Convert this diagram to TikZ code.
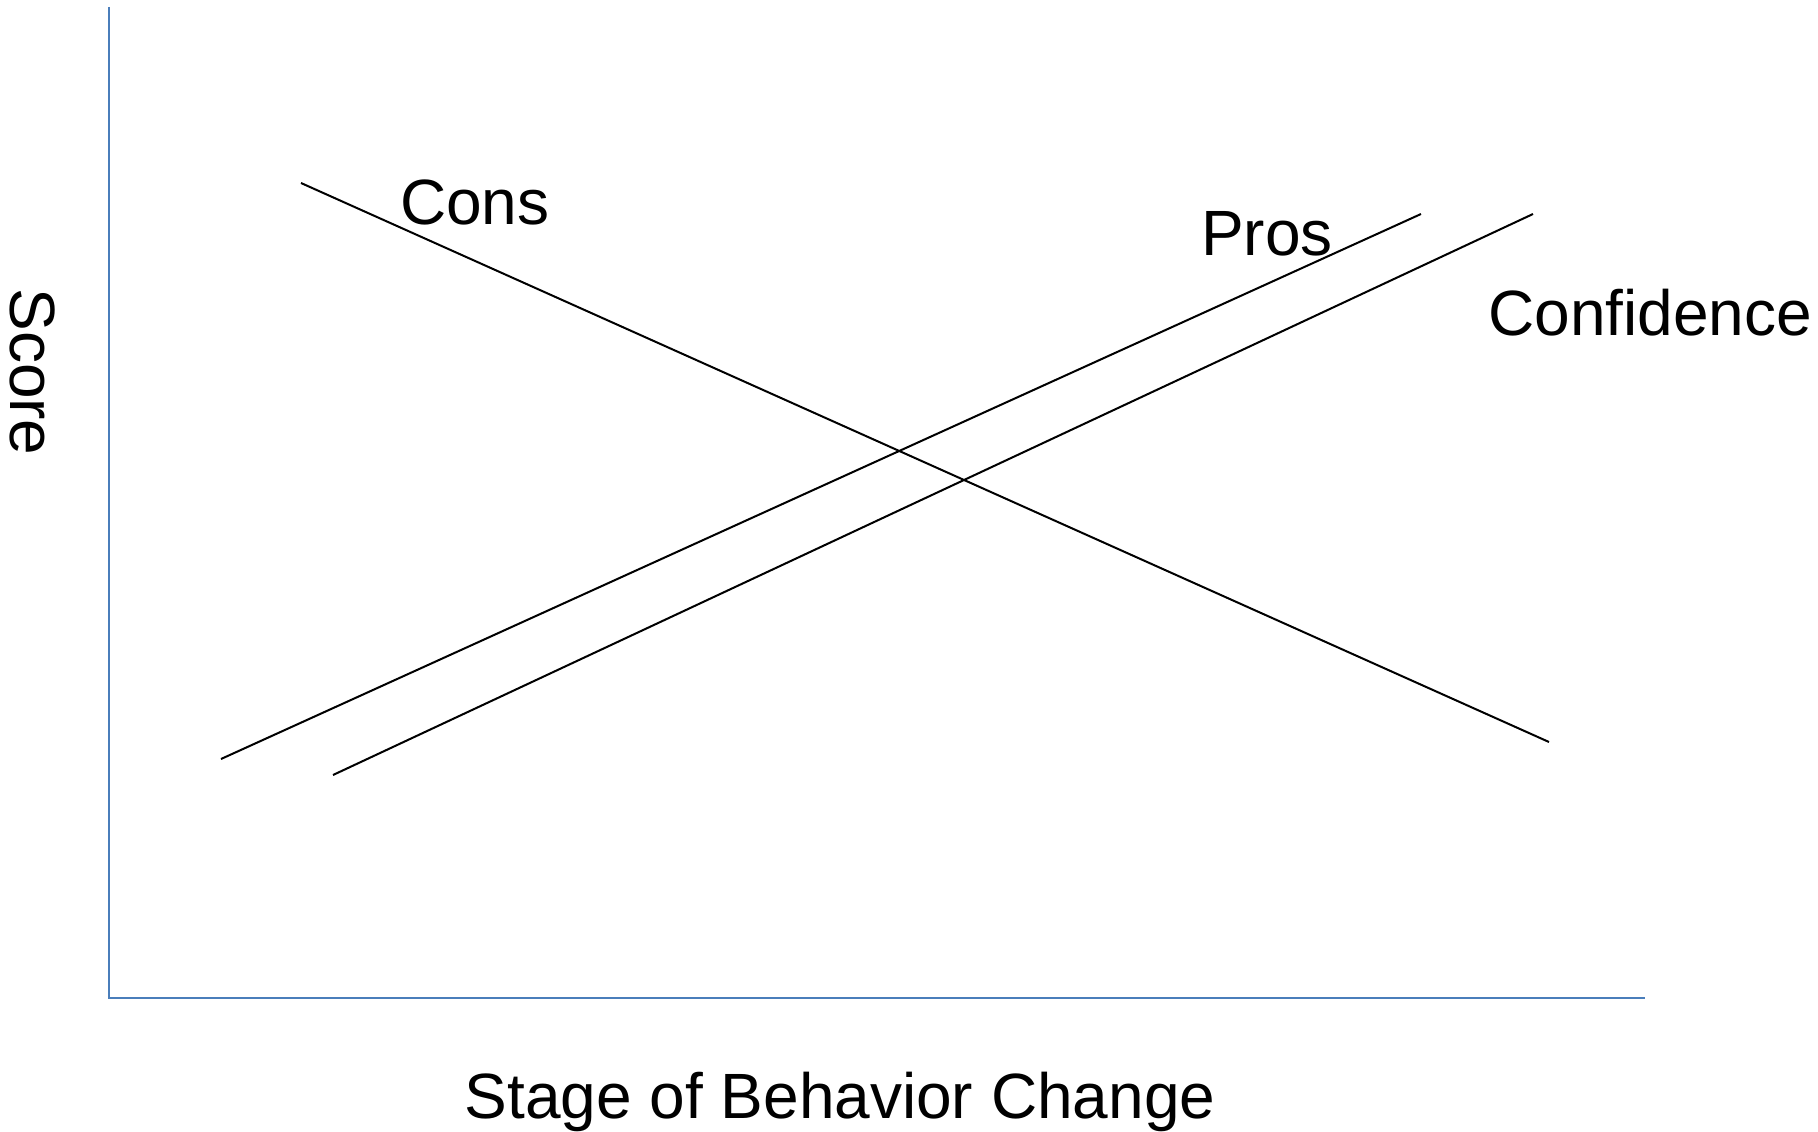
\documentclass[tikz,border=0pt]{standalone}
\usepackage{fontspec}
\setmainfont{Liberation Sans}
\definecolor{axisblue}{RGB}{74,126,187}
\tikzset{
  axisline/.style={axisblue, line width=2.5pt},
  stageline/.style={black, line width=2pt},
  curvename/.style={inner sep=0pt, anchor=base west, font=\fontsize{64}{76}\selectfont},
  axisname/.style={inner sep=0pt, font=\fontsize{64}{76}\selectfont}
}

\begin{document}
\begin{tikzpicture}[x=1pt,y=-1pt]
			\useasboundingbox (0,0) rectangle (1818,1132);
			\coordinate (o) at (109, 998);
			\coordinate (ytop) at (109, 7);
			\coordinate (xend) at (1645, 998);

			\coordinate (cons1) at (301, 183);
			\coordinate (cons2) at (1549, 742);
			\coordinate (pros1) at (221, 759);
			\coordinate (pros2) at (1421, 214);
			\coordinate (conf1) at (333, 775);
			\coordinate (conf2) at (1533, 214);

			\draw[axisline] (ytop)--(o)--(xend);
			\draw[stageline] (cons1)--(cons2);
			\draw[stageline] (pros1)--(pros2);
			\draw[stageline] (conf1)--(conf2);

			\node[curvename] (conslabel) at (400, 224) {Cons};
			\node[curvename] (proslabel) at (1201, 255) {Pros};
			\node[curvename] (conflabel) at (1488, 335) {Confidence};
			\node[axisname, anchor=base] (xlabel) at (840, 1118) {Stage of Behavior Change};
			\node[axisname, rotate=-90] (ylabel) at (33, 372) {Score};
		\end{tikzpicture}
\end{document}
